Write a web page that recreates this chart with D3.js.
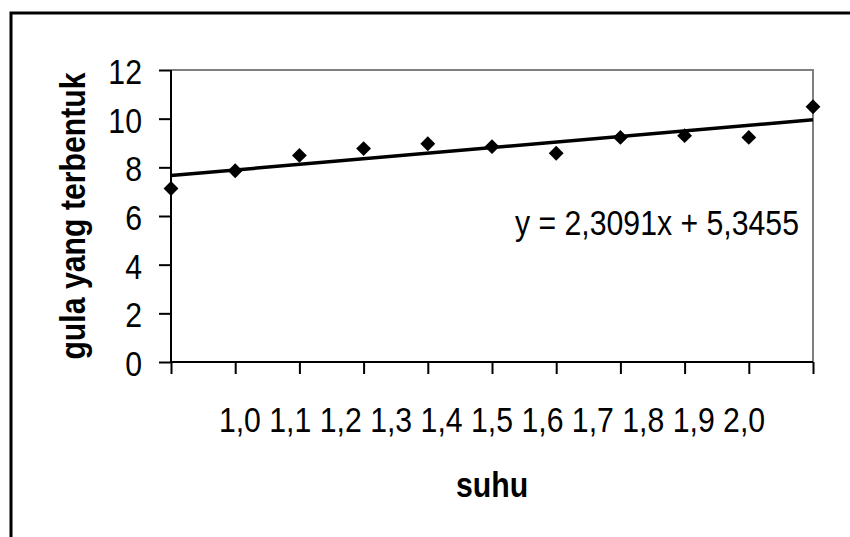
<!DOCTYPE html>
<html>
<head>
<meta charset="utf-8">
<script src="https://cdn.jsdelivr.net/npm/d3@7/dist/d3.min.js"></script>
<style>
  html, body { margin: 0; padding: 0; background: #fff; }
  svg { display: block; }
  text { font-family: "Liberation Sans", Arial, sans-serif; fill: #000; }
</style>
</head>
<body>
<svg id="chart" width="850" height="537"></svg>
<script>
// ---- data ----
const suhu = [1.0, 1.1, 1.2, 1.3, 1.4, 1.5, 1.6, 1.7, 1.8, 1.9, 2.0];
const gula = [7.13, 7.86, 8.49, 8.77, 8.97, 8.85, 8.58, 9.23, 9.30, 9.23, 10.49];
const xTickLabels = ["1,0", "1,1", "1,2", "1,3", "1,4", "1,5", "1,6", "1,7", "1,8", "1,9", "2,0"];
const yTicks = [0, 2, 4, 6, 8, 10, 12];
const equationText = "y = 2,3091x + 5,3455";
const xTitle = "suhu";
const yTitle = "gula yang terbentuk";

// ---- layout ----
const svg = d3.select("#chart");
const plot = { left: 171, right: 813, top: 70, bottom: 362 };
const FS = 36, SX = 0.84;

const x = d3.scaleLinear().domain([1.0, 2.0]).range([plot.left, plot.right]);
const y = d3.scaleLinear().domain([0, 12]).range([plot.bottom, plot.top]);

// outer frame (cut off at right and bottom)
svg.append("rect")
  .attr("x", 11).attr("y", 13).attr("width", 900).attr("height", 600)
  .attr("fill", "none").attr("stroke", "#000").attr("stroke-width", 3);

// plot area top/right border (grey)
svg.append("path")
  .attr("d", `M${plot.left},${plot.top}H${plot.right}V${plot.bottom}`)
  .attr("fill", "none").attr("stroke", "#808080").attr("stroke-width", 2);

// y axis
const yAxis = d3.axisLeft(y).tickValues(yTicks).tickSize(12).tickFormat("");
const gy = svg.append("g").attr("transform", `translate(${plot.left},0)`).call(yAxis);
gy.select(".domain").attr("stroke", "#000").attr("stroke-width", 2).attr("d", `M0,${plot.top}V${plot.bottom}`);
gy.selectAll(".tick line").attr("stroke", "#000").attr("stroke-width", 2);

// x axis
const xAxis = d3.axisBottom(x).tickValues(suhu).tickSize(12).tickFormat("");
const gx = svg.append("g").attr("transform", `translate(0,${plot.bottom})`).call(xAxis);
gx.select(".domain").attr("stroke", "#000").attr("stroke-width", 2).attr("d", `M${plot.left},0H${plot.right}`);
gx.selectAll(".tick line").attr("stroke", "#000").attr("stroke-width", 2);

// narrow text helper
function ntext(g, tx, ty, str, anchor, opts = {}) {
  const t = g.append("text")
    .attr("transform", `translate(${tx},${ty})${opts.rotate ? ` rotate(${opts.rotate})` : ""} scale(${SX},1)`)
    .attr("text-anchor", anchor)
    .attr("font-size", opts.size || FS)
    .text(str);
  if (opts.bold) t.attr("font-weight", "bold");
  return t;
}

// y tick labels
yTicks.forEach(v => ntext(svg, 142, y(v) + 14, String(v), "end"));

// x tick labels (one run of text, as in reference)
ntext(svg, (plot.left + plot.right) / 2, 432, xTickLabels.join(" "), "middle");

// axis titles
ntext(svg, (plot.left + plot.right) / 2, 497, xTitle, "middle", { bold: true });
ntext(svg, 85, (plot.top + plot.bottom) / 2, yTitle, "middle", { bold: true, rotate: -90 });

// trendline (least squares)
const mx = d3.mean(suhu), my = d3.mean(gula);
const slope = d3.sum(suhu, (d, i) => (d - mx) * (gula[i] - my)) / d3.sum(suhu, d => (d - mx) * (d - mx));
const intercept = my - slope * mx;
const ext = d3.extent(suhu);
svg.append("line")
  .attr("x1", x(ext[0])).attr("y1", y(intercept + slope * ext[0]))
  .attr("x2", x(ext[1])).attr("y2", y(intercept + slope * ext[1]))
  .attr("stroke", "#000").attr("stroke-width", 3.5);

// markers
const diamond = d3.symbol().type(d3.symbolSquare).size(110);
svg.append("g").selectAll("path").data(suhu).join("path")
  .attr("d", diamond)
  .attr("transform", (d, i) => `translate(${x(d)},${y(gula[i])}) rotate(45)`)
  .attr("fill", "#000");

// equation label
ntext(svg, 799, 235, equationText, "end");
</script>
</body>
</html>
